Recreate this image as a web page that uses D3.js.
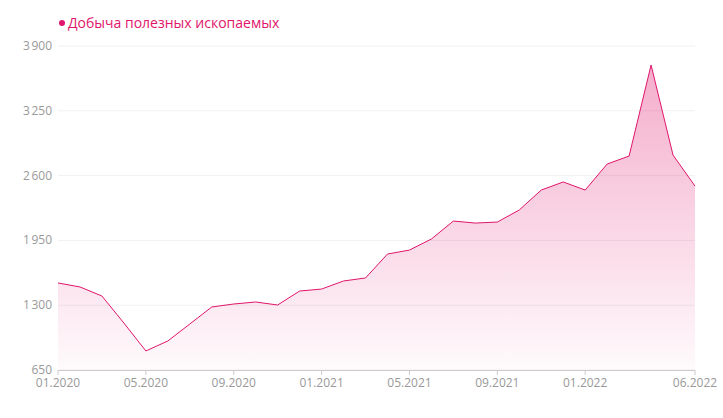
<!DOCTYPE html>
<html><head><meta charset="utf-8">
<script src="https://cdn.jsdelivr.net/npm/d3@7"></script>
<style>body{margin:0;background:#fff;font-family:"Open Sans",sans-serif}</style>
</head><body><svg id="c" width="723" height="418"></svg>
<script>
const months = ["01.2020","02.2020","03.2020","04.2020","05.2020","06.2020","07.2020","08.2020","09.2020","10.2020","11.2020","12.2020","01.2021","02.2021","03.2021","04.2021","05.2021","06.2021","07.2021","08.2021","09.2021","10.2021","11.2021","12.2021","01.2022","02.2022","03.2022","04.2022","05.2022","06.2022"];
const values = [1523,1483,1392,1121,841,941,1111,1282,1312,1332,1302,1442,1462,1543,1573,1813,1853,1964,2144,2124,2134,2255,2455,2536,2455,2716,2796,3709,2806,2495];
const yTicks = [650,1300,1950,2600,3250,3900];
const xTickLabels = ["01.2020","05.2020","09.2020","01.2021","05.2021","09.2021","01.2022","06.2022"];
const seriesName = "Добыча полезных ископаемых";
const color = "#e0156b";

const svg = d3.select("#c");
const x = d3.scalePoint().domain(months).range([58,695]);
const y = d3.scaleLinear().domain([650,3900]).range([370,46]);
const fmt = v => d3.format(",")(v).replace(/,/g,"\u202f");

const defs = svg.append("defs");
const g = defs.append("linearGradient").attr("id","gr").attr("x1",0).attr("x2",0).attr("y1",0).attr("y2",1);
g.append("stop").attr("offset","0%").attr("stop-color",color).attr("stop-opacity",0.35);
g.append("stop").attr("offset","100%").attr("stop-color",color).attr("stop-opacity",0.02);

svg.append("g").selectAll("line").data(yTicks).join("line")
  .attr("x1",58).attr("x2",695).attr("y1",d=>y(d)).attr("y2",d=>y(d))
  .attr("stroke","#f1f1f1");
svg.append("g").selectAll("text").data(yTicks).join("text")
  .attr("x",52).attr("y",d=>y(d)+4).attr("text-anchor","end")
  .attr("font-size",12).attr("fill","#999").text(fmt);

const data = months.map((m,i)=>({m,v:values[i]}));
svg.append("path").datum(data).attr("fill","url(#gr)")
  .attr("d",d3.area().x(d=>x(d.m)).y0(370).y1(d=>y(d.v)));
svg.append("path").datum(data).attr("fill","none").attr("stroke",color).attr("stroke-width",1)
  .attr("d",d3.line().x(d=>x(d.m)).y(d=>y(d.v)));

svg.append("line").attr("x1",58).attr("x2",695).attr("y1",370.5).attr("y2",370.5).attr("stroke","#ccc");
svg.append("g").selectAll("text").data(xTickLabels).join("text")
  .attr("x",d=>x(d)).attr("y",387).attr("text-anchor",(d,i)=>i===xTickLabels.length-1?"middle":"middle")
  .attr("font-size",12).attr("fill","#999").text(d=>d);
svg.append("g").selectAll("line").data(xTickLabels).join("line")
  .attr("x1",d=>x(d)).attr("x2",d=>x(d)).attr("y1",370).attr("y2",375).attr("stroke","#ccc");

svg.append("circle").attr("cx",62).attr("cy",23).attr("r",3).attr("fill",color);
svg.append("text").attr("x",68).attr("y",28).attr("font-size",14).attr("fill",color).text(seriesName);
</script></body></html>
